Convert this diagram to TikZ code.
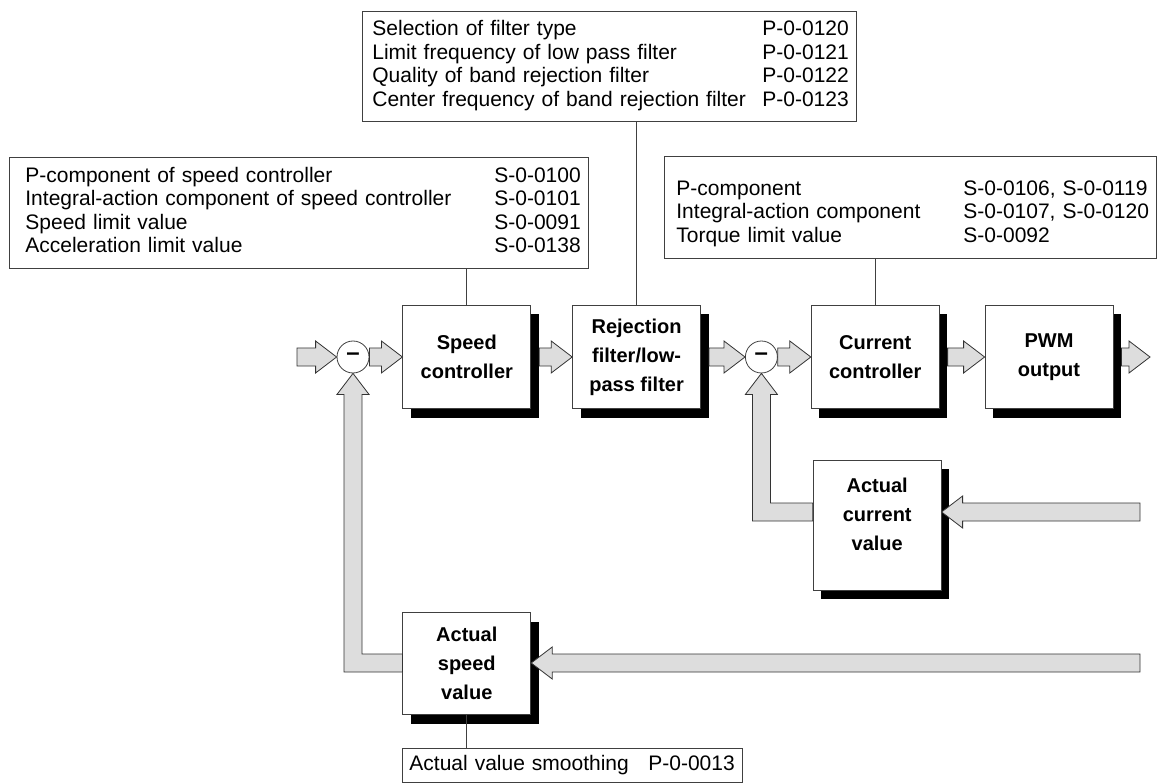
\documentclass[tikz,border=0pt]{standalone}
\usepackage{fontspec}
\setmainfont{Liberation Sans}
\usetikzlibrary{positioning,calc,shadows}
\definecolor{arrowgray}{HTML}{DDDDDD}

\newcommand{\shaftw}{9pt}
\newcommand{\headw}{16pt}
\newcommand{\headl}{21pt}
% straight block arrow (left or right)
\newcommand{\fatx}[2]{%
  \path[fat] let \p1=(#1), \p2=(#2), \n1={ifthenelse(\x2>\x1,1,-1)} in
    (\x1,{\y1+\shaftw}) -- ({\x2-\n1*\headl},{\y1+\shaftw}) -- ({\x2-\n1*\headl},{\y1+\headw})
    -- (\x2,\y1) -- ({\x2-\n1*\headl},{\y1-\headw}) -- ({\x2-\n1*\headl},{\y1-\shaftw})
    -- (\x1,{\y1-\shaftw}) -- cycle;}
% feedback arrow: out of a box to the left, then up into a junction
\newcommand{\fatl}[2]{%
  \path[fat] let \p1=(#1), \p2=(#2) in
    (\x1,{\y1+\shaftw}) -- ({\x2+\shaftw},{\y1+\shaftw}) -- ({\x2+\shaftw},{\y2-\headl})
    -- ({\x2+\headw},{\y2-\headl}) -- (\x2,\y2) -- ({\x2-\headw},{\y2-\headl})
    -- ({\x2-\shaftw},{\y2-\headl}) -- ({\x2-\shaftw},{\y1-\shaftw}) -- (\x1,{\y1-\shaftw}) -- cycle;}

\begin{document}
\begin{tikzpicture}[x=1pt,y=-1pt,
  blk/.style={draw=black!75,fill=white,line width=0.8pt,minimum width=128pt,minimum height=103pt,
    align=center,inner sep=0pt,font=\fontsize{20}{29}\selectfont\bfseries,
    drop shadow={shadow xshift=8pt,shadow yshift=-9pt,fill=black,opacity=1}},
  junc/.style={circle,draw=black!75,fill=white,line width=0.8pt,minimum size=32pt,inner sep=0pt,
    font=\fontsize{24}{24}\selectfont\bfseries},
  parbox/.style={draw=black!75,line width=0.8pt,anchor=north west,inner sep=0pt,align=left,
    font=\fontsize{21}{23.5}\selectfont},
  fat/.style={draw=black!80,fill=arrowgray,line width=0.8pt,line join=miter},
  link/.style={draw=black!75,line width=0.8pt}]
  \useasboundingbox (0,0) rectangle (1164,783);

  % forward path
  \node[junc] (s1) at (353,357) {\textendash};
  \node[blk,right=33pt of s1] (spd) {Speed\\controller};
  \node[blk,right=41pt of spd] (flt) {Rejection\\filter/low-\\pass filter};
  \node[junc,right=44pt of flt] (s2) {\textendash};
  \node[blk,right=33pt of s2] (cur) {Current\\controller};
  \node[blk,right=45pt of cur] (pwm) {PWM\\output};
  % feedback blocks
  \node[blk,minimum height=130pt,text depth=22pt,below=51pt of cur,xshift=2pt] (ican) {Actual\\current\\value};
  \node[blk,minimum height=102pt,below=203.5pt of spd] (nact) {Actual\\speed\\value};

  \coordinate (src) at (297,357);
  \coordinate (sink) at (1150,357);
  \coordinate (fbi) at (1140,512);
  \coordinate (fbn) at (1140,663);

  % parameter boxes
  \node[parbox,text width=494pt,minimum height=110pt] (fltpar) at (362,11) {%
    \begin{tabular}{@{\hspace{10pt}}p{390pt}@{}l@{}}
    Selection of filter type & P-0-0120\\
    Limit frequency of low pass filter & P-0-0121\\
    Quality of band rejection filter & P-0-0122\\
    Center frequency of band rejection filter & P-0-0123
    \end{tabular}};
  \node[parbox,text width=579pt,minimum height=111pt] (spdpar) at (9,157) {%
    \begin{tabular}{@{\hspace{16pt}}p{469pt}@{}l@{}}
    P-component of speed controller & S-0-0100\\
    Integral-action component of speed controller & S-0-0101\\
    Speed limit value & S-0-0091\\
    Acceleration limit value & S-0-0138
    \end{tabular}};
  \node[parbox,text width=492pt,minimum height=102pt] (curpar) at (664,156) {%
    \begin{tabular}{@{\hspace{12pt}}p{287pt}@{}l@{}}
    \rule{0pt}{30pt}P-component & S-0-0106, S-0-0119\\
    Integral-action component & S-0-0107, S-0-0120\\
    Torque limit value & S-0-0092
    \end{tabular}};
  \node[parbox,text width=340pt,minimum height=34pt] (smpar) at (402,748) {%
    \begin{tabular}{@{\hspace{7pt}}p{239pt}@{}l@{}}
    Actual value smoothing & P-0-0013
    \end{tabular}};

  \draw[link] (fltpar.south -| flt.north) -- (flt.north);
  \draw[link] (spdpar.south -| spd.north) -- (spd.north);
  \draw[link] (curpar.south -| cur.north) -- (cur.north);
  \draw[link] (nact.south) -- (smpar.north -| nact.south);

  % block arrows
  \fatx{src}{s1.west}
  \fatx{s1.east}{spd.west}
  \fatx{[xshift=8pt]spd.east}{flt.west}
  \fatx{[xshift=8pt]flt.east}{s2.west}
  \fatx{s2.east}{cur.west}
  \fatx{[xshift=8pt]cur.east}{pwm.west}
  \fatx{[xshift=8pt]pwm.east}{sink}
  \fatx{fbi}{ican.east |- fbi}
  \fatx{fbn}{nact.east |- fbn}
  \fatl{ican.west |- fbi}{s2.south}
  \fatl{nact.west |- fbn}{s1.south}
\end{tikzpicture}
\end{document}
